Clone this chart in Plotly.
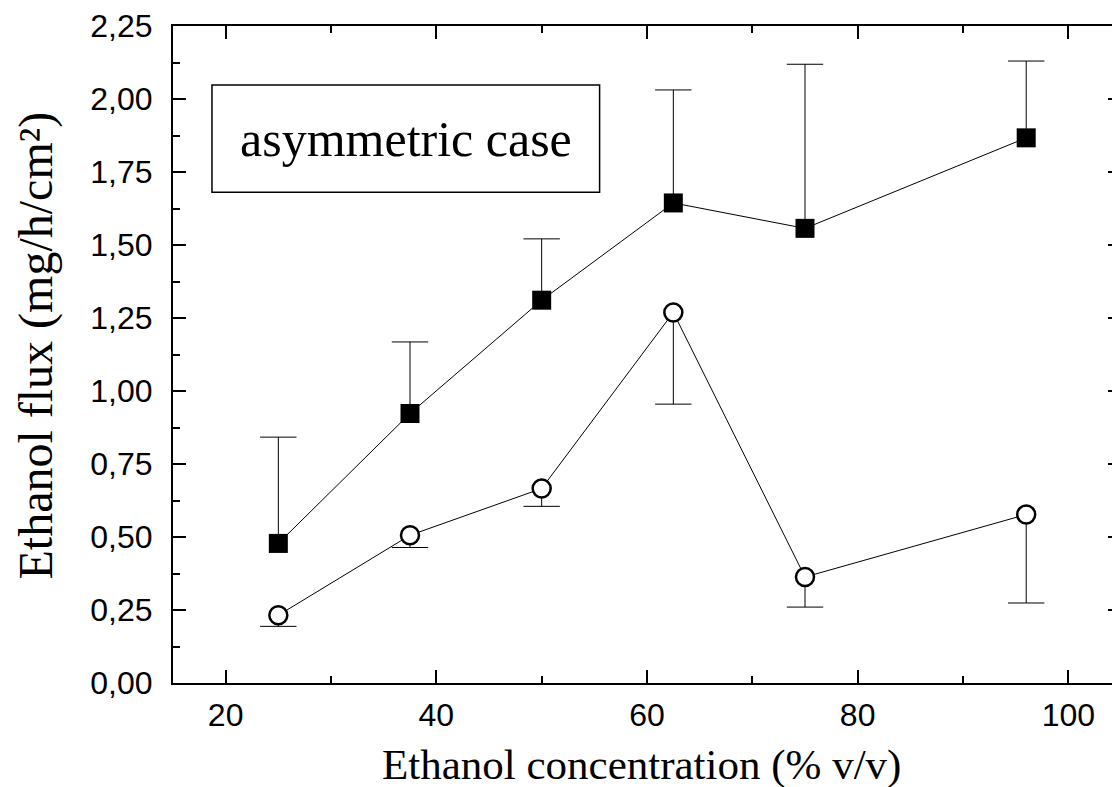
import plotly.graph_objects as go

# Data
conc = [25, 37.5, 50, 62.5, 75, 96]
flux_sq = [0.478, 0.923, 1.311, 1.644, 1.557, 1.867]
err_sq_plus = [0.364, 0.245, 0.21, 0.387, 0.562, 0.263]
flux_ci = [0.232, 0.506, 0.666, 1.269, 0.363, 0.577]
err_ci_minus = [0.038, 0.042, 0.061, 0.314, 0.103, 0.303]

x_ticks = [20, 40, 60, 80, 100]
y_ticks = [0, 0.25, 0.5, 0.75, 1.0, 1.25, 1.5, 1.75, 2.0, 2.25]

x_title = "Ethanol concentration (% v/v)"
y_title = "Ethanol flux (mg/h/cm²)"

fig = go.Figure()

# error bar caps (horizontal line markers at the bar ends)
fig.add_trace(go.Scatter(
    x=conc, y=[v + e for v, e in zip(flux_sq, err_sq_plus)], mode="markers",
    marker=dict(symbol="line-ew", size=26, line=dict(color="black", width=1)),
    showlegend=False, hoverinfo="skip",
))
fig.add_trace(go.Scatter(
    x=conc, y=[v - e for v, e in zip(flux_ci, err_ci_minus)], mode="markers",
    marker=dict(symbol="line-ew", size=26, line=dict(color="black", width=1)),
    showlegend=False, hoverinfo="skip",
))

fig.add_trace(go.Scatter(
    x=conc, y=flux_sq, mode="lines+markers",
    line=dict(color="black", width=1),
    marker=dict(symbol="square", size=19, color="black", line=dict(color="black", width=0)),
    error_y=dict(type="data", symmetric=False, array=err_sq_plus,
                 arrayminus=[0] * len(conc), color="black", thickness=1, width=0),
    showlegend=False,
))
fig.add_trace(go.Scatter(
    x=conc, y=flux_ci, mode="lines+markers",
    line=dict(color="black", width=1),
    marker=dict(symbol="circle", size=18, color="white", line=dict(color="black", width=2.5)),
    error_y=dict(type="data", symmetric=False, array=[0] * len(conc),
                 arrayminus=err_ci_minus, color="black", thickness=1, width=0),
    showlegend=False,
))

fig.add_shape(type="rect", xref="x", yref="y", x0=18.7, x1=55.5, y0=1.681, y1=2.048,
              line=dict(color="black", width=1.5), fillcolor="white", layer="below")
fig.add_annotation(x=37.1, y=1.8645, xref="x", yref="y", text="asymmetric case",
                   showarrow=False, font=dict(family="Liberation Serif", size=50, color="black"))

# axis titles
fig.add_annotation(x=0.4937, y=-0.1248, xref="paper", yref="paper", text=x_title,
                   showarrow=False, xanchor="center", yanchor="middle",
                   font=dict(family="Liberation Serif", size=43, color="black"))
fig.add_annotation(x=-0.145, y=0.513, xref="paper", yref="paper", text=y_title,
                   showarrow=False, xanchor="center", yanchor="middle", textangle=-90,
                   font=dict(family="Liberation Serif", size=48, color="black"))

axis_common = dict(
    showline=True, linecolor="black", linewidth=2, mirror="ticks",
    ticks="inside", ticklen=13, tickwidth=2, tickcolor="black",
    showgrid=False, zeroline=False,
    tickfont=dict(family="Liberation Sans", size=32, color="black"),
)

fig.update_xaxes(
    range=[15, 105], tickvals=x_ticks, ticktext=[str(v) for v in x_ticks],
    minor=dict(ticks="inside", ticklen=7, tickwidth=2, tickcolor="black", dtick=10, tick0=0, showgrid=False),
    ticklabelstandoff=3,
    **axis_common,
)
fig.update_yaxes(
    range=[0, 2.25], tickvals=y_ticks, tickformat=".2f",
    minor=dict(ticks="inside", ticklen=7, tickwidth=2, tickcolor="black", dtick=0.125, tick0=0, showgrid=False),
    ticklabelstandoff=12,
    **axis_common,
)

fig.update_layout(
    width=1124, height=787, autosize=False,
    margin=dict(l=173, r=1, t=26, b=104, pad=0),
    plot_bgcolor="white", paper_bgcolor="white",
    separators=", ",
)

fig.write_html("out.html",
               post_script="document.body.style.overflow='hidden';document.documentElement.style.overflow='hidden';document.body.style.margin='0';")
